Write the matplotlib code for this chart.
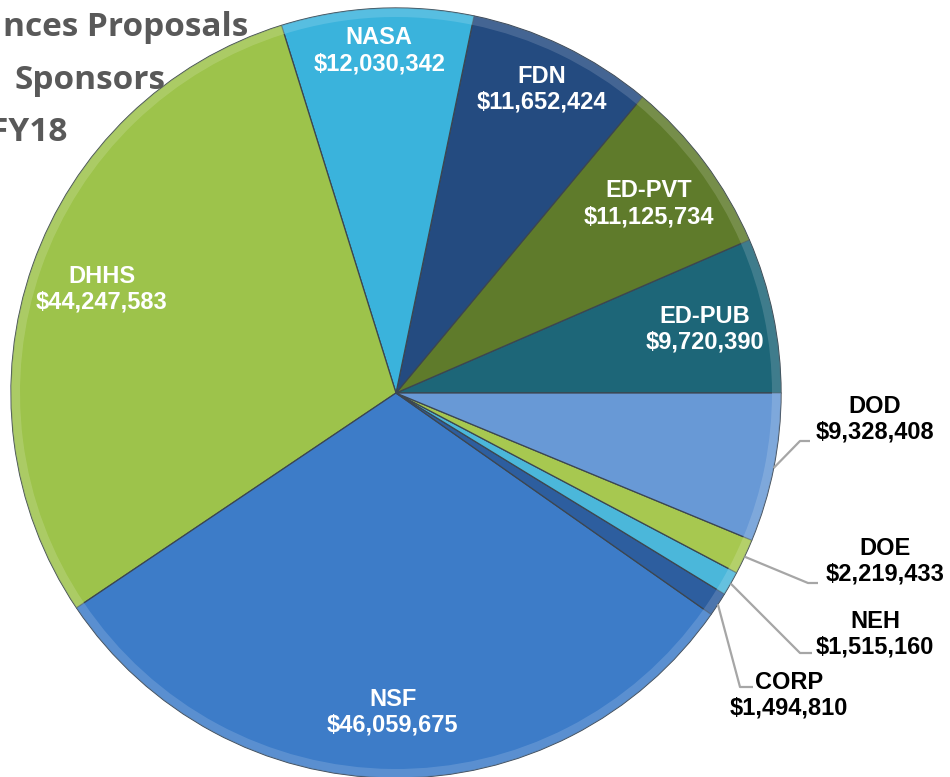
import numpy as np
import matplotlib
matplotlib.use("Agg")
from matplotlib import pyplot as plt
from matplotlib.colors import to_rgb

# Proposal dollars by sponsor, FY18 (counter-clockwise from 3 o'clock)
sponsors = ["ED-PUB", "ED-PVT", "FDN", "NASA", "DHHS", "NSF",
            "CORP", "NEH", "DOE", "DOD"]
amounts = [9720390, 11125734, 11652424, 12030342, 44247583, 46059675,
           1494810, 1515160, 2219433, 9328408]
colors = ["#1d6678", "#5f7b2b", "#244b80", "#3ab3dc", "#9dc34b", "#3d7cc8",
          "#2d5e9f", "#4bb7da", "#a7c850", "#6899d6"]
title_lines = ["nces Proposals", "Sponsors", "FY18"]

W, H = 950, 777
CENTER = (396, H - 393)
RADIUS = 385

# which labels sit inside the slice, and how far out (fraction of radius)
inside_dist = {"ED-PUB": 0.82, "ED-PVT": 0.82, "FDN": 0.875,
               "NASA": 0.89, "DHHS": 0.81, "NSF": 0.83}
# outside labels: elbow point, end of leader, label centre (pixels, y down)
outside = {
    "DOD": ((800, 441), (810, 441), (875, 419)),
    "DOE": ((808, 583), (818, 583), (885, 561)),
    "NEH": ((800, 653), (812, 653), (875, 634)),
    "CORP": ((740, 687), (753, 687), (789, 695)),
}


def money(v):
    return "${:,}".format(v)


def lighter(c, amt):
    r, g, b = to_rgb(c)
    return (r + (1 - r) * amt, g + (1 - g) * amt, b + (1 - b) * amt)


def main():
    plt.rcParams['font.family'] = ['Liberation Sans', 'DejaVu Sans']
    fig = plt.figure(figsize=(W / 100, H / 100), dpi=100)
    ax = fig.add_axes([0, 0, 1, 1])

    wedges, _ = ax.pie(amounts, colors=colors, startangle=0, counterclock=True,
                       center=CENTER, radius=RADIUS, frame=True,
                       wedgeprops=dict(edgecolor="#3c4650", linewidth=0.9))
    # soft highlight along the rim, like the bevel in the original
    ax.pie(amounts, colors=[lighter(c, 0.25) for c in colors], startangle=0,
           counterclock=True, center=CENTER, radius=RADIUS, frame=True,
           wedgeprops=dict(width=9, edgecolor="none", alpha=0.6))
    ax.set_xlim(0, W)
    ax.set_ylim(0, H)
    ax.set_aspect('equal')
    ax.axis('off')

    for w, name, val in zip(wedges, sponsors, amounts):
        mid = np.deg2rad((w.theta1 + w.theta2) / 2)
        label = name + "\n" + money(val)
        if name in inside_dist:
            r = RADIUS * inside_dist[name]
            x = CENTER[0] + r * np.cos(mid)
            y = CENTER[1] + r * np.sin(mid)
            ax.text(x, y, label, ha='center', va='center', color='white',
                    fontsize=17, fontweight='bold', linespacing=1.15)
        else:
            elbow, end, txt = outside[name]
            x0 = CENTER[0] + RADIUS * np.cos(mid)
            y0 = CENTER[1] + RADIUS * np.sin(mid)
            ax.plot([x0, elbow[0], end[0]], [y0, H - elbow[1], H - end[1]],
                    color="#a6a6a6", linewidth=1.6, solid_capstyle='butt')
            ax.text(txt[0], H - txt[1], label, ha='center', va='center',
                    color='black', fontsize=17, fontweight='bold',
                    linespacing=1.15)

    # title, partly cut off on the left in the original
    for line, xr, yb in zip(title_lines, [248, 165, 67], [36, 89, 141]):
        ax.text(xr, H - yb, line, ha='right', va='baseline', color="#595959",
                fontsize=24, fontweight='bold',
                family=['Open Sans', 'DejaVu Sans'])

    fig.savefig("out.png", dpi=100)


if __name__ == '__main__':
    main()
